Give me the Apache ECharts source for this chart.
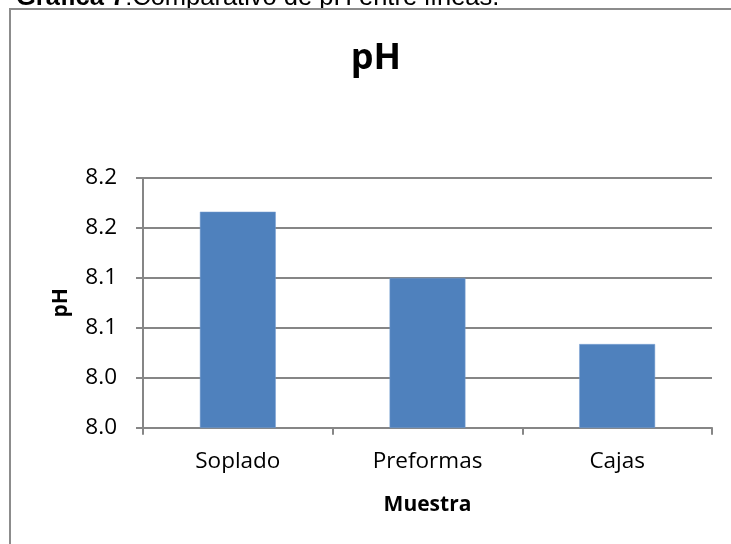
<!DOCTYPE html>
<html>
<head>
<meta charset="utf-8">
<script src="https://cdn.jsdelivr.net/npm/echarts@6/dist/echarts.min.js"></script>
<style>
  html, body { margin: 0; padding: 0; background: #ffffff; }
  #chart { width: 731px; height: 544px; }
</style>
</head>
<body>
<div id="chart"></div>
<script>
// Mean pH per production line
const categories = ['Soplado', 'Preformas', 'Cajas'];
const phValues = [8.173, 8.12, 8.067];
const axisMin = 8.0;
const axisMax = 8.2;
const axisStep = 0.04;

const FONT = '"Open Sans", "Noto Sans", sans-serif';
const GRID_GRAY = '#868686';

const chart = echarts.init(document.getElementById('chart'), null, { renderer: 'canvas' });

chart.setOption({
  animation: false,
  backgroundColor: '#ffffff',
  graphic: [
    {
      type: 'rect',
      shape: { x: 10, y: 9, width: 760, height: 560 },
      style: { fill: 'none', stroke: '#8c8c8c', lineWidth: 2 },
      silent: true
    },
    {
      type: 'text',
      x: 16,
      y: 11,
      z: -1,
      style: {
        text: '{b|Gráfica 7}{r|:Comparativo de pH entre líneas.}',
        textVerticalAlign: 'bottom',
        rich: {
          b: { fontFamily: '"Liberation Sans", Arial, sans-serif', fontSize: 25.5, fontWeight: 'bold', fill: '#000' },
          r: { fontFamily: '"Liberation Sans", Arial, sans-serif', fontSize: 25.5, fill: '#000' }
        }
      },
      silent: true
    },
    {
      type: 'text',
      x: 376,
      y: 59,
      style: {
        text: 'pH',
        fontFamily: FONT,
        fontSize: 36,
        fontWeight: 'bold',
        fill: '#000',
        textAlign: 'center',
        textVerticalAlign: 'middle'
      },
      silent: true
    }
  ],
  grid: { left: 143, right: 19, top: 178, bottom: 116.3, containLabel: false },
  xAxis: {
    type: 'category',
    data: categories,
    name: 'Muestra',
    nameLocation: 'middle',
    nameGap: 67,
    nameTextStyle: { fontFamily: FONT, fontSize: 21, fontWeight: 'bold', color: '#000' },
    axisLine: { show: true, lineStyle: { color: GRID_GRAY, width: 2 } },
    axisTick: { show: true, alignWithLabel: false, length: 7, inside: false, lineStyle: { color: GRID_GRAY, width: 2 } },
    axisLabel: { fontFamily: FONT, fontSize: 22.5, color: '#000', margin: 22, lineHeight: 24 },
    splitLine: { show: false }
  },
  yAxis: {
    type: 'value',
    min: axisMin,
    max: axisMax,
    interval: axisStep,
    name: 'pH',
    nameLocation: 'middle',
    nameRotate: 90,
    nameGap: 71,
    nameTextStyle: { fontFamily: FONT, fontSize: 21, fontWeight: 'bold', color: '#000' },
    axisLine: { show: true, lineStyle: { color: GRID_GRAY, width: 2 } },
    axisTick: { show: true, length: 7, lineStyle: { color: GRID_GRAY, width: 2 } },
    axisLabel: {
      fontFamily: FONT,
      fontSize: 22.5,
      color: '#000',
      margin: 26,
      formatter: v => v.toFixed(1)
    },
    splitLine: { show: true, lineStyle: { color: GRID_GRAY, width: 2 } }
  },
  series: [
    {
      type: 'bar',
      data: phValues,
      barWidth: '40%',
      itemStyle: { color: '#4F81BD', borderColor: '#7aa1d2', borderWidth: 0.5 }
    }
  ]
});
</script>
</body>
</html>
